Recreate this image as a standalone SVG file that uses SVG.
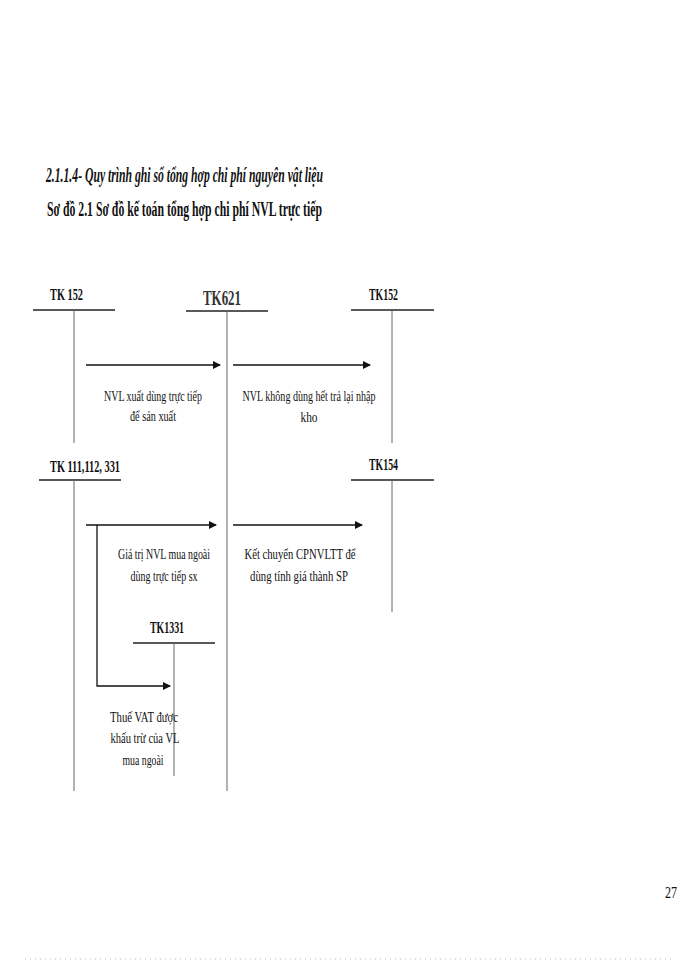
<svg xmlns="http://www.w3.org/2000/svg" width="700" height="960" viewBox="0 0 700 960">
<style>
text{font-family:"Liberation Serif","Times New Roman",serif;fill:#111}
.h1{font-size:21px;font-weight:bold;font-style:italic}
.h2{font-size:20px;font-weight:bold}
.tk{font-size:16px;font-weight:bold}
.tkb{font-size:20px;font-weight:bold;fill:#333}
.lb{font-size:15px}
.hl{stroke:#222;stroke-width:1.3;fill:none}
.vl{stroke:#666;stroke-width:1;fill:none}
.ar{stroke:#111;stroke-width:1.3;fill:none;marker-end:url(#ah)}
</style>
<defs>
<marker id="ah" markerWidth="8" markerHeight="8" refX="7" refY="4" orient="auto" markerUnits="userSpaceOnUse">
<path d="M0,0 L8,4 L0,8 Z" fill="#111"/>
</marker>
</defs>
<rect width="700" height="960" fill="#fff"/>
<text class="h1" x="46" y="182" textLength="277" lengthAdjust="spacingAndGlyphs">2.1.1.4- Quy trình ghi sổ tổng hợp chi phí nguyên vật liệu</text>
<text class="h2" x="47" y="216" textLength="275" lengthAdjust="spacingAndGlyphs">Sơ đồ 2.1 Sơ đồ kế toán tổng hợp chi phí NVL trực tiếp</text>

<g id="tk152a">
<text class="tk" x="50" y="300" textLength="33" lengthAdjust="spacingAndGlyphs">TK 152</text>
<line class="hl" x1="33" y1="310" x2="115" y2="310"/>
<line class="vl" x1="74" y1="310" x2="74" y2="443"/>
</g>
<g id="tk621">
<text class="tkb" x="203" y="305" textLength="38" lengthAdjust="spacingAndGlyphs">TK621</text>
<line class="hl" x1="186" y1="311" x2="268" y2="311"/>
<line class="vl" x1="227" y1="311" x2="227" y2="791"/>
</g>
<g id="tk152b">
<text class="tk" x="369" y="300" textLength="29" lengthAdjust="spacingAndGlyphs">TK152</text>
<line class="hl" x1="351" y1="310" x2="434" y2="310"/>
<line class="vl" x1="392" y1="310" x2="392" y2="443"/>
</g>
<g id="tk111">
<text class="tk" x="50" y="472" textLength="70" lengthAdjust="spacingAndGlyphs">TK 111,112, 331</text>
<line class="hl" x1="39" y1="480" x2="121" y2="480"/>
<line class="vl" x1="74" y1="480" x2="74" y2="791"/>
</g>
<g id="tk154">
<text class="tk" x="369" y="470" textLength="29" lengthAdjust="spacingAndGlyphs">TK154</text>
<line class="hl" x1="351" y1="480" x2="434" y2="480"/>
<line class="vl" x1="392" y1="480" x2="392" y2="612"/>
</g>
<g id="tk1331">
<text class="tk" x="150" y="633" textLength="34" lengthAdjust="spacingAndGlyphs">TK1331</text>
<line class="hl" x1="133" y1="643" x2="215" y2="643"/>
<line class="vl" x1="174" y1="643" x2="174" y2="776"/>
</g>

<g id="connectors">
<line class="ar" x1="86" y1="365" x2="220" y2="365"/>
<line class="ar" x1="233" y1="365" x2="370" y2="365"/>
<line class="ar" x1="86" y1="525" x2="216" y2="525"/>
<line class="ar" x1="233" y1="525" x2="362" y2="525"/>
<polyline class="ar" points="97,525 97,686 170,686"/>
</g>

<g id="labels">
<text class="lb" x="153" y="401" text-anchor="middle" textLength="98" lengthAdjust="spacingAndGlyphs">NVL xuất dùng trực tiếp</text>
<text class="lb" x="153" y="421" text-anchor="middle" textLength="46" lengthAdjust="spacingAndGlyphs">để sản xuất</text>
<text class="lb" x="309" y="401" text-anchor="middle" textLength="133" lengthAdjust="spacingAndGlyphs">NVL không  dùng hết trả lại nhập</text>
<text class="lb" x="309" y="422" text-anchor="middle" textLength="17" lengthAdjust="spacingAndGlyphs">kho</text>
<text class="lb" x="164" y="559" text-anchor="middle" textLength="92" lengthAdjust="spacingAndGlyphs">Giá trị NVL mua ngoài</text>
<text class="lb" x="164" y="581" text-anchor="middle" textLength="67" lengthAdjust="spacingAndGlyphs">dùng trực tiếp sx</text>
<text class="lb" x="300" y="559" text-anchor="middle" textLength="111" lengthAdjust="spacingAndGlyphs">Kết chuyển  CPNVLTT để</text>
<text class="lb" x="299" y="581" text-anchor="middle" textLength="98" lengthAdjust="spacingAndGlyphs">dùng tính  giá thành SP</text>
<text class="lb" x="144" y="722" text-anchor="middle" textLength="68" lengthAdjust="spacingAndGlyphs">Thuế VAT được</text>
<text class="lb" x="145" y="743" text-anchor="middle" textLength="69" lengthAdjust="spacingAndGlyphs">khấu trừ của VL</text>
<text class="lb" x="143" y="765" text-anchor="middle" textLength="41" lengthAdjust="spacingAndGlyphs">mua ngoài</text>
</g>

<text x="665" y="898" style="font-size:16px" textLength="12" lengthAdjust="spacingAndGlyphs">27</text>
<line x1="25" y1="959" x2="672" y2="959" stroke="#bbb" stroke-width="1" stroke-dasharray="1,4"/>
</svg>
